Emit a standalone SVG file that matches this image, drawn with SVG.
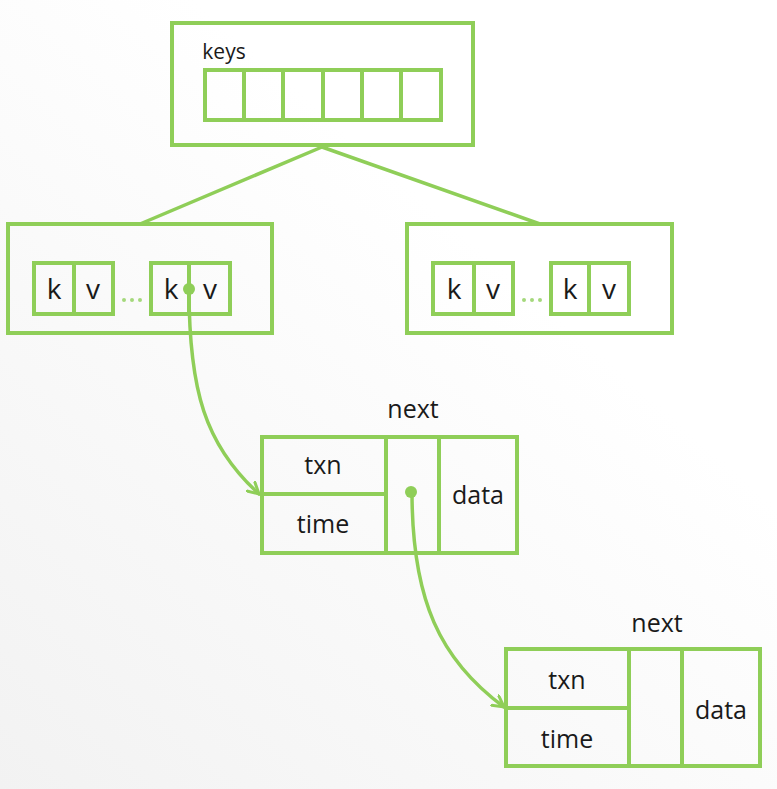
<svg xmlns="http://www.w3.org/2000/svg" width="777" height="789" viewBox="0 0 777 789">
<defs>
<style>
.b{fill:none;stroke:#8fce58;stroke-width:4}
.c{fill:none;stroke:#8fce58;stroke-width:3.5;stroke-linecap:round}
.t{font-family:"Open Sans","Noto Sans",sans-serif;fill:#1a1a1a;text-anchor:middle}
.kv{font-size:28px}
.m{font-size:25px}
</style>
<marker id="ah" viewBox="0 0 14 14" refX="12" refY="7" markerWidth="14" markerHeight="14" markerUnits="userSpaceOnUse" orient="auto">
<path d="M1,1 L12,7 L1,13" fill="none" stroke="#8fce58" stroke-width="3" stroke-linecap="round"/>
</marker>
<linearGradient id="bg" x1="0" y1="1" x2="0.6" y2="0.3">
<stop offset="0" stop-color="#f2f2f2"/>
<stop offset="1" stop-color="#ffffff"/>
</linearGradient>
</defs>
<rect width="777" height="789" fill="url(#bg)"/>
<g id="connectors">
<path class="c" d="M322,147 L140,224"/>
<path class="c" d="M322,147 L540,224"/>
<path class="c" d="M189,289 C189,390 205,445 259,494" marker-end="url(#ah)"/>
<path class="c" d="M412,492 C412,600 440,660 504,707" marker-end="url(#ah)"/>
</g>
<g id="root">
<rect class="b" x="172" y="23" width="301" height="122"/>
<text class="t" x="224" y="59" style="font-size:21px">keys</text>
<rect class="b" x="205" y="70" width="236" height="50"/>
<path class="b" d="M244,70V120M283,70V120M323,70V120M362,70V120M401,70V120"/>
</g>
<g id="leaf-left">
<rect class="b" x="8" y="224" width="264" height="109"/>
<rect class="b" x="34" y="263" width="79" height="51"/>
<path class="b" d="M74,263V314"/>
<rect class="b" x="151" y="263" width="79" height="51"/>
<path class="b" d="M189,263V314"/>
<text class="t kv" x="54" y="299">k</text>
<text class="t kv" x="93" y="299">v</text>
<text class="t kv" x="171" y="299">k</text>
<text class="t kv" x="210" y="299">v</text>
<g fill="#a5d87c"><circle cx="124" cy="300" r="2"/><circle cx="132" cy="300" r="2"/><circle cx="140" cy="300" r="2"/></g>
<circle cx="189" cy="289" r="6" fill="#8fce58"/>
</g>
<g id="leaf-right">
<rect class="b" x="407" y="224" width="265" height="109"/>
<rect class="b" x="433" y="263" width="80" height="51"/>
<path class="b" d="M474,263V314"/>
<rect class="b" x="551" y="263" width="78" height="51"/>
<path class="b" d="M589,263V314"/>
<text class="t kv" x="454" y="299">k</text>
<text class="t kv" x="493" y="299">v</text>
<text class="t kv" x="570" y="299">k</text>
<text class="t kv" x="609" y="299">v</text>
<g fill="#a5d87c"><circle cx="524" cy="300" r="2"/><circle cx="532" cy="300" r="2"/><circle cx="540" cy="300" r="2"/></g>
</g>
<g id="version1">
<text class="t m" x="413" y="418">next</text>
<rect class="b" x="262" y="437" width="255" height="116"/>
<path class="b" d="M262,494H386M386,437V553M439,437V553"/>
<text class="t m" x="323" y="474">txn</text>
<text class="t m" x="323" y="533">time</text>
<text class="t m" x="478" y="504">data</text>
<circle cx="411" cy="492" r="6" fill="#8fce58"/>
</g>
<g id="version2">
<text class="t m" x="657" y="632">next</text>
<rect class="b" x="506" y="649" width="254" height="117"/>
<path class="b" d="M506,708H629M629,649V766M682,649V766"/>
<text class="t m" x="567" y="689">txn</text>
<text class="t m" x="567" y="748">time</text>
<text class="t m" x="721" y="719">data</text>
</g>
</svg>
